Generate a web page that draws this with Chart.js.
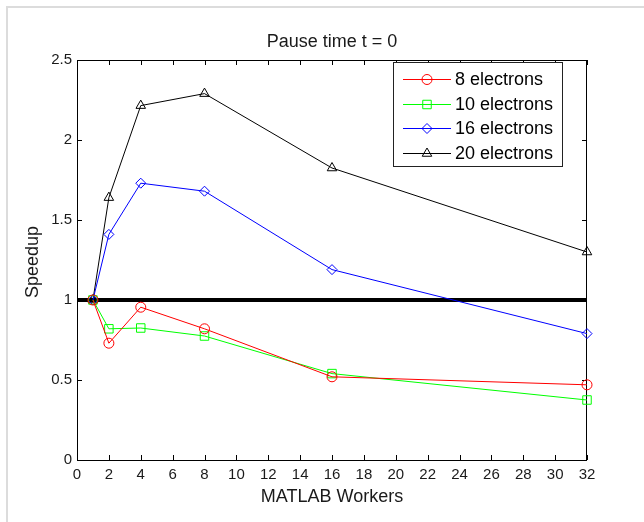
<!DOCTYPE html>
<html>
<head>
<meta charset="utf-8">
<script src="https://cdn.jsdelivr.net/npm/chart.js@4"></script>
<style>
  body { margin: 0; background: #fff; }
  canvas { display: block; }
</style>
</head>
<body>
<canvas id="speedupChart" width="644" height="522"></canvas>
<script>
// dados
const workers = [1, 2, 4, 8, 16, 32];
const seriesLabels = ["8 electrons", "10 electrons", "16 electrons", "20 electrons"];
const speedup8 = [1.0, 0.73, 0.955, 0.82, 0.52, 0.47];
const speedup10 = [1.0, 0.82, 0.825, 0.775, 0.54, 0.375];
const speedup16 = [1.0, 1.41, 1.73, 1.68, 1.19, 0.79];
const speedup20 = [1.0, 1.64, 2.215, 2.29, 1.825, 1.30];
const baselineX = [0, 32];
const baselineY = [1, 1];

const FONT = "'Liberation Sans', Arial, sans-serif";
const cores = ["#ff0000", "#00ff00", "#0000ff", "#000000"];
const marcadores = ["circle", "rect", "rectRot", "triangle"];
const raios = [5, 6, 5, 5.5];
const valores = [speedup8, speedup10, speedup16, speedup20];

function pontos(xs, ys) {
    return xs.map((x, i) => ({ x: x, y: ys[i] }));
}

let datasets = valores.map((serie, i) => ({
    label: seriesLabels[i],
    data: pontos(workers, serie),
    borderColor: cores[i],
    borderWidth: 1,
    pointStyle: marcadores[i],
    pointRadius: raios[i],
    pointBorderColor: cores[i],
    pointBackgroundColor: "rgba(0,0,0,0)",
    pointBorderWidth: 1,
    tension: 0,
    clip: false
}));

datasets.push({
    label: "baseline",
    data: pontos(baselineX, baselineY),
    borderColor: "#000",
    borderWidth: 4,
    pointRadius: 0
});

const moldura = {
    id: "moldura",
    beforeDraw(chart) {
        const ctx = chart.ctx;
        ctx.save();
        ctx.fillStyle = "#fff";
        ctx.fillRect(0, 0, chart.width, chart.height);
        ctx.fillStyle = "#dcdcdc";
        ctx.fillRect(6, 6, chart.width - 6, 2);
        ctx.fillRect(6, 6, 2, chart.height - 6);
        ctx.restore();
    },
    beforeDatasetsDraw(chart) {
        const ctx = chart.ctx;
        const a = chart.chartArea;
        const sx = chart.scales.x, sy = chart.scales.y;
        ctx.save();
        ctx.strokeStyle = "#000";
        ctx.lineWidth = 1;
        ctx.strokeRect(a.left + 0.5, a.top + 0.5, a.right - a.left - 1, a.bottom - a.top);
        ctx.beginPath();
        sx.ticks.forEach(t => {
            const px = Math.round(sx.getPixelForValue(t.value)) + 0.5;
            ctx.moveTo(px, a.bottom); ctx.lineTo(px, a.bottom - 5);
            ctx.moveTo(px, a.top); ctx.lineTo(px, a.top + 5);
        });
        sy.ticks.forEach(t => {
            const py = Math.round(sy.getPixelForValue(t.value)) + 0.5;
            ctx.moveTo(a.left, py); ctx.lineTo(a.left + 5, py);
            ctx.moveTo(a.right, py); ctx.lineTo(a.right - 5, py);
        });
        ctx.stroke();
        ctx.restore();
    },
    afterDraw(chart) {
        const ctx = chart.ctx;
        const a = chart.chartArea;
        ctx.save();
        ctx.fillStyle = "#1a1a1a";
        ctx.font = "18px " + FONT;
        ctx.textAlign = "center";
        ctx.textBaseline = "middle";
        ctx.fillText("Pause time t = 0", (a.left + a.right) / 2, 42);
        ctx.fillText("MATLAB Workers", (a.left + a.right) / 2, 497);
        ctx.save();
        ctx.translate(33, (a.top + a.bottom) / 2 + 2);
        ctx.rotate(-Math.PI / 2);
        ctx.fillText("Speedup", 0, 0);
        ctx.restore();

        // legenda
        const lx = a.right - 194, ly = a.top + 2;
        ctx.fillStyle = "#fff";
        ctx.fillRect(lx, ly, 169, 104);
        ctx.strokeStyle = "#222";
        ctx.lineWidth = 1;
        ctx.strokeRect(lx + 0.5, ly + 0.5, 169, 104);
        const linhas = [17, 41.5, 66, 90.5];
        seriesLabels.forEach((nome, i) => {
            const y = Math.round(ly + linhas[i]) + 0.5;
            ctx.strokeStyle = cores[i];
            ctx.beginPath();
            ctx.moveTo(lx + 10, y);
            ctx.lineTo(lx + 58, y);
            ctx.stroke();
            ctx.save();
            ctx.fillStyle = "rgba(0,0,0,0)";
            Chart.helpers.drawPoint(ctx, {
                pointStyle: marcadores[i],
                radius: raios[i],
                borderWidth: 1,
                rotation: 0
            }, lx + 34, y);
            ctx.restore();
            ctx.fillStyle = "#000";
            ctx.textAlign = "left";
            ctx.fillText(nome, lx + 62, y + 1);
        });
        ctx.restore();
    }
};

const ctxLine = document.getElementById("speedupChart").getContext("2d");

let chartLine = new Chart(ctxLine, {
    type: "line",
    data: { datasets: datasets },
    options: {
        responsive: false,
        animation: false,
        devicePixelRatio: 1,
        layout: { padding: { left: 0, top: 60, right: 57, bottom: 0 } },
        plugins: { legend: { display: false }, tooltip: { enabled: false } },
        scales: {
            x: {
                type: "linear",
                min: 0,
                max: 32,
                ticks: { stepSize: 2, color: "#1a1a1a", padding: 6, font: { family: FONT, size: 15 }, maxRotation: 0, autoSkip: false },
                grid: { display: false, drawTicks: false },
                border: { display: false },
                afterFit(scale) { scale.height = 62; }
            },
            y: {
                type: "linear",
                min: 0,
                max: 2.5,
                ticks: {
                    stepSize: 0.5, color: "#1a1a1a", padding: 5, font: { family: FONT, size: 15 },
                    callback: v => String(Math.round(v * 10) / 10)
                },
                grid: { display: false, drawTicks: false },
                border: { display: false },
                afterFit(scale) { scale.width = 77; }
            }
        }
    },
    plugins: [moldura]
});
</script>
</body>
</html>
